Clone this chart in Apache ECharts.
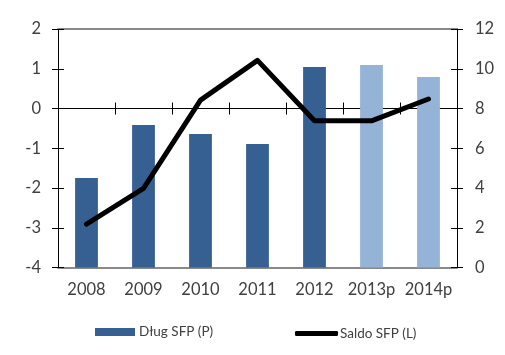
<!DOCTYPE html>
<html>
<head>
<meta charset="utf-8">
<script src="https://cdn.jsdelivr.net/npm/echarts@6/dist/echarts.min.js"></script>
<style>
html,body{margin:0;padding:0;background:#fff;}
#c{width:505px;height:355px;}
</style>
</head>
<body>
<div id="c"></div>
<script>
const categories = ['2008', '2009', '2010', '2011', '2012', '2013p', '2014p'];
const dlugSFP = [4.5, 7.17, 6.72, 6.21, 10.09, 10.19, 9.58];
const saldoSFP = [-2.91, -2.01, 0.21, 1.21, -0.31, -0.31, 0.24];
const forecastFlags = [false, false, false, false, false, true, true];
const leftTicks = { min: -4, max: 2, interval: 1 };
const rightTicks = { min: 0, max: 12, interval: 2 };

const FONT = 'Lato';
const LABEL_COLOR = '#404040';
const DARK = '#366092';
const LIGHT = '#95B3D7';
const GRAY = '#898989';

const chart = echarts.init(document.getElementById('c'), null, { renderer: 'canvas' });

const baseX = { type: 'category', data: categories, gridIndex: 0 };
const labelStyle = { fontFamily: FONT, fontSize: 16.5, color: LABEL_COLOR };

function yAx(side, scale, inside, showLabel) {
  return {
    type: 'value', position: side, min: scale.min, max: scale.max, interval: scale.interval,
    axisLine: { show: !inside, lineStyle: { color: '#000', width: 1 } },
    axisTick: { show: true, inside: inside, length: 6, lineStyle: { color: '#000', width: 1 } },
    axisLabel: { show: showLabel, margin: 17, fontFamily: FONT, fontSize: 16.5, color: LABEL_COLOR },
    splitLine: { show: false }
  };
}

chart.setOption({
  animation: false,
  grid: { left: 58, right: 48, top: 29, bottom: 87.5, containLabel: false },
  xAxis: [
    Object.assign({}, baseX, {
      position: 'bottom',
      axisLine: { show: true, onZero: false, lineStyle: { color: GRAY, width: 2 } },
      axisTick: { show: false },
      axisLabel: Object.assign({ margin: 14, interval: 0 }, labelStyle)
    }),
    Object.assign({}, baseX, {
      position: 'bottom',
      axisLine: { show: true, onZero: true, onZeroAxisIndex: 0, lineStyle: { color: '#000', width: 1 } },
      axisTick: { show: true, interval: 0, inside: false, length: 6, lineStyle: { color: '#000' } },
      axisLabel: { show: false }
    }),
    Object.assign({}, baseX, {
      position: 'bottom',
      axisLine: { show: false, onZero: true, onZeroAxisIndex: 0 },
      axisTick: { show: true, interval: 0, inside: true, length: 6, lineStyle: { color: '#000' } },
      axisLabel: { show: false }
    }),
    Object.assign({}, baseX, {
      position: 'top',
      axisLine: { show: true, onZero: false, lineStyle: { color: GRAY, width: 2 } },
      axisTick: { show: false },
      axisLabel: { show: false }
    })
  ],
  yAxis: [
    yAx('left', leftTicks, false, true),
    Object.assign(yAx('right', rightTicks, false, true), { axisLabel: { show: true, margin: 18, fontFamily: FONT, fontSize: 16.5, color: LABEL_COLOR } }),
    yAx('left', leftTicks, true, false),
    yAx('right', rightTicks, true, false)
  ],
  legend: [
    {
      data: [{ name: 'Dług SFP (P)', icon: 'rect' }],
      left: 90, top: 320, itemWidth: 40, itemHeight: 8, itemGap: 5,
      textStyle: { fontFamily: FONT, fontSize: 13.5, color: LABEL_COLOR, padding: [0, 0, 0, -1] }
    },
    {
      data: [{ name: 'Saldo SFP (L)', icon: 'roundRect', itemStyle: { color: '#000', borderWidth: 0 } }],
      left: 290, top: 321.5, itemWidth: 43, itemHeight: 5,
      textStyle: { fontFamily: FONT, fontSize: 13.5, color: LABEL_COLOR, padding: [0, 0, 0, -3] }
    }
  ],
  series: [
    {
      name: 'Dług SFP (P)', type: 'bar', xAxisIndex: 0, yAxisIndex: 1, barWidth: '40%',
      itemStyle: { color: DARK },
      data: dlugSFP.map((v, i) => ({ value: v, itemStyle: { color: forecastFlags[i] ? LIGHT : DARK } })),
      z: 2
    },
    {
      name: 'Saldo SFP (L)', type: 'line', xAxisIndex: 0, yAxisIndex: 0, data: saldoSFP,
      symbol: 'none', showSymbol: false, lineStyle: { color: '#000', width: 5, cap: 'round', join: 'round' },
      itemStyle: { color: '#000' }, z: 5
    }
  ]
});
</script>
</body>
</html>
